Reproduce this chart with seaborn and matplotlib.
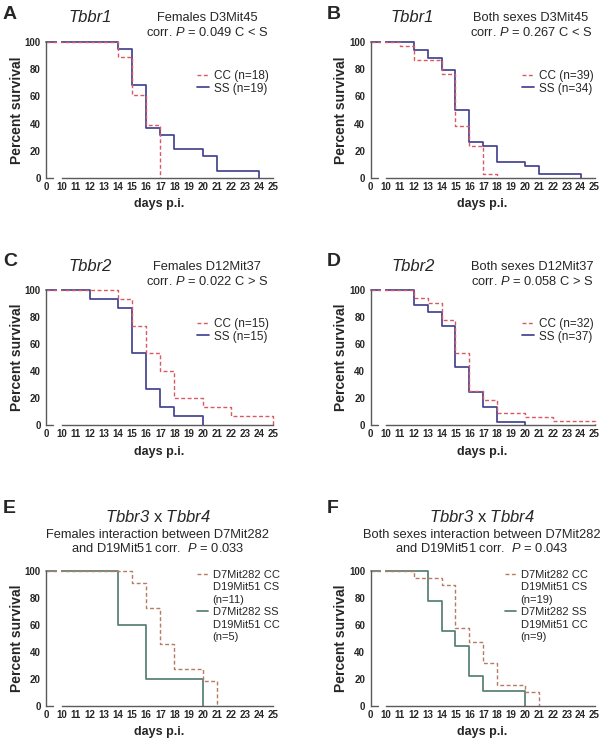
import pandas as pd
import seaborn as sns
import matplotlib.pyplot as plt
from matplotlib.lines import Line2D

sns.set_theme(style="white")
plt.rcParams['font.family'] = ['Liberation Sans', 'DejaVu Sans']
plt.rcParams['mathtext.fontset'] = 'custom'
plt.rcParams['mathtext.rm'] = 'Liberation Sans'
plt.rcParams['mathtext.it'] = 'Liberation Sans:italic'
plt.rcParams['mathtext.sf'] = 'Liberation Sans:italic'

# ---- data (days p.i. of each step, percent surviving after it) ----
a_cc_day = [0, 14, 15, 16, 17]
a_cc_surv = [100, 88.9, 61.1, 38.9, 0]
a_ss_day = [0, 14, 15, 16, 17, 18, 20, 21, 24]
a_ss_surv = [100, 94.7, 68.4, 36.8, 31.6, 21.1, 15.8, 5.3, 0]

b_cc_day = [0, 11, 12, 14, 15, 16, 17, 18]
b_cc_surv = [100, 97.4, 87.2, 76.9, 38.5, 23.1, 2.6, 0]
b_ss_day = [0, 12, 13, 14, 15, 16, 17, 18, 20, 21, 24]
b_ss_surv = [100, 94.1, 88.2, 79.4, 50.0, 26.5, 23.5, 11.8, 8.8, 2.9, 0]

c_cc_day = [0, 14, 15, 16, 17, 18, 20, 22, 25]
c_cc_surv = [100, 93.3, 73.3, 53.3, 40.0, 20.0, 13.3, 6.7, 0]
c_ss_day = [0, 12, 14, 15, 16, 17, 18, 20]
c_ss_surv = [100, 93.3, 86.7, 53.3, 26.7, 13.3, 6.7, 0]

d_cc_day = [0, 12, 13, 14, 15, 16, 17, 18, 20, 22, 25]
d_cc_surv = [100, 93.8, 90.6, 78.1, 53.1, 25.0, 18.8, 9.4, 6.3, 3.1, 0]
d_ss_day = [0, 12, 13, 14, 15, 16, 17, 18, 20]
d_ss_surv = [100, 89.2, 83.8, 73.0, 43.2, 24.3, 13.5, 2.7, 0]

e_cc_day = [0, 15, 16, 17, 18, 20, 21]
e_cc_surv = [100, 90.9, 72.7, 45.5, 27.3, 18.2, 0]
e_ss_day = [0, 14, 16, 20]
e_ss_surv = [100, 60, 20, 0]

f_cc_day = [0, 12, 14, 15, 16, 17, 18, 20, 21]
f_cc_surv = [100, 94.7, 89.5, 57.9, 47.4, 31.6, 15.8, 10.5, 0]
f_ss_day = [0, 13, 14, 15, 16, 17, 20]
f_ss_surv = [100, 77.8, 55.6, 44.4, 22.2, 11.1, 0]

x_ticks = [0] + list(range(10, 26))
y_ticks = [0, 20, 40, 60, 80, 100]

genes = ["Tbbr1", "Tbbr1", "Tbbr2", "Tbbr2",
         r"$\mathsf{Tbbr3}$ x $\mathsf{Tbbr4}$", r"$\mathsf{Tbbr3}$ x $\mathsf{Tbbr4}$"]
notes = [
    ["Females D3Mit45", r"corr. $P$ = 0.049 C < S"],
    ["Both sexes D3Mit45", r"corr. $P$ = 0.267 C < S"],
    ["Females D12Mit37", r"corr. $P$ = 0.022 C > S"],
    ["Both sexes D12Mit37", r"corr. $P$ = 0.058 C > S"],
    ["Females interaction between D7Mit282", r"and D19Mit51 corr.  $P$ = 0.033"],
    ["Both sexes interaction between D7Mit282", r"and D19Mit51 corr.  $P$ = 0.043"],
]
legend_labels = [
    ["CC (n=18)", "SS (n=19)"],
    ["CC (n=39)", "SS (n=34)"],
    ["CC (n=15)", "SS (n=15)"],
    ["CC (n=32)", "SS (n=37)"],
    ["D7Mit282 CC", "D19Mit51 CS", "(n=11)", "D7Mit282 SS", "D19Mit51 CC", "(n=5)"],
    ["D7Mit282 CC", "D19Mit51 CS", "(n=19)", "D7Mit282 SS", "D19Mit51 CC", "(n=9)"],
]
series = [
    (a_cc_day, a_cc_surv, a_ss_day, a_ss_surv),
    (b_cc_day, b_cc_surv, b_ss_day, b_ss_surv),
    (c_cc_day, c_cc_surv, c_ss_day, c_ss_surv),
    (d_cc_day, d_cc_surv, d_ss_day, d_ss_surv),
    (e_cc_day, e_cc_surv, e_ss_day, e_ss_surv),
    (f_cc_day, f_cc_surv, f_ss_day, f_ss_surv),
]
letters = ["A", "B", "C", "D", "E", "F"]

# ---- layout (pixels of a 603x743 figure) ----
W, H = 603, 743
X0 = 8.9          # where day 0 sits on the broken axis
BRK = 9.4         # end of the short first axis piece
spine_col = "#5a5a5a"
cc_colors = ["#d95863"] * 4 + ["#b77a64"] * 2
ss_colors = ["#434390"] * 4 + ["#557f73"] * 2

col_left = [46.2, 370.7]
col_width = [226.8, 223.8]
row_bottom = [177.7, 425.3, 706.0]
ax_h = 135.4

letter_pos = [(3, 6), (327, 6), (3, 253), (327, 253), (3, 500), (327, 500)]
gene_pos = [(90, 18), (412, 18), (90, 267), (413, 267), (158, 517), (482, 517)]
note_pos = [[(207, 18), (207, 33)], [(531, 18), (531, 33)],
            [(207, 267), (207, 282)], [(532, 267), (532, 282)],
            [(158, 535), (158, 548)], [(482, 535), (482, 548)]]
legend_pos = [(197, 70), (522, 70), (197, 318), (522, 318), (197, 570), (505, 570)]

fig = plt.figure(figsize=(W / 100, H / 100), dpi=100)


def px(x, y):
    return x / W, 1 - y / H


for i in range(6):
    r, c = divmod(i, 2)
    ax = fig.add_axes([col_left[c] / W, 1 - row_bottom[r] / H,
                       col_width[c] / W, ax_h / H])
    cc_day, cc_surv, ss_day, ss_surv = series[i]

    df_cc = pd.DataFrame({"pos": [X0 if d == 0 else d for d in cc_day], "surv": cc_surv})
    df_ss = pd.DataFrame({"pos": [X0 if d == 0 else d for d in ss_day], "surv": ss_surv})

    sns.lineplot(data=df_ss, x="pos", y="surv", ax=ax, color=ss_colors[i],
                 drawstyle="steps-post", estimator=None, sort=False, lw=1.25)
    ss_line = ax.lines[-1]
    sns.lineplot(data=df_cc, x="pos", y="surv", ax=ax, color=cc_colors[i],
                 drawstyle="steps-post", estimator=None, sort=False, lw=1.0,
                 linestyle="--")
    cc_line = ax.lines[-1]
    cc_line.set_dashes((2.8, 1.8))
    for ln in (ss_line, cc_line):
        ln.set_clip_on(False)
        ln.set_zorder(3)

    # axis break: gap in curves and in the x axis
    ax.axvspan(9.65, 9.93, ymin=-0.02, ymax=1.03, color="white", zorder=4,
               clip_on=False, lw=0)
    ax.axvspan(BRK + 0.02, 9.98, ymin=-0.03, ymax=0.02, color="white", zorder=6,
               clip_on=False, lw=0)
    ax.plot([X0, BRK], [0, 0], color=spine_col, lw=1, clip_on=False, zorder=7)

    ax.set_xlim(X0, 25)
    ax.set_ylim(0, 100)
    for s in ("top", "right"):
        ax.spines[s].set_visible(False)
    ax.spines["left"].set_bounds(0, 100)
    ax.spines["bottom"].set_bounds(10, 25)
    for s in ("left", "bottom"):
        ax.spines[s].set_color(spine_col)
        ax.spines[s].set_linewidth(1)
        ax.spines[s].set_zorder(7)

    ax.set_xticks([X0, BRK] + x_ticks[1:])
    ax.set_xticklabels([str(x_ticks[0]), ""] + [str(t) for t in x_ticks[1:]])
    ax.set_yticks(y_ticks)
    ax.set_yticklabels([str(t) for t in y_ticks])
    ax.tick_params(axis="x", direction="inout", length=4.5, width=1, color=spine_col,
                   pad=0.5, labelsize=7)
    ax.tick_params(axis="y", direction="out", length=3, width=1, color=spine_col,
                   pad=1, labelsize=7)
    for lab in ax.get_xticklabels() + ax.get_yticklabels():
        lab.set_fontweight("bold")

    ax.set_xlabel("days p.i.", fontsize=9, fontweight="bold")
    ax.set_ylabel("Percent survival", fontsize=10, fontweight="bold")
    ax.xaxis.set_label_coords(0.5, -0.15)
    ax.yaxis.set_label_coords(-0.1, 0.5)

    # legend
    labels = legend_labels[i]
    if len(labels) == 2:
        handles = [cc_line, ss_line]
        fs, sp = 8.5, 0.05
    else:
        blank = Line2D([], [], color="none")
        handles = [cc_line, blank, blank, ss_line, blank, blank]
        fs, sp = 8, 0.22
    lx, ly = px(*legend_pos[i])
    ax.legend(handles, labels, loc="upper left", bbox_to_anchor=(lx, ly),
              bbox_transform=fig.transFigure, frameon=False, fontsize=fs,
              borderpad=0, borderaxespad=0, handlelength=1.0, handletextpad=0.4,
              labelspacing=sp)

    # texts
    fig.text(*px(*letter_pos[i]), letters[i], fontsize=14, fontweight="bold",
             ha="left", va="top")
    gx, gy = px(*gene_pos[i])
    if i < 4:
        fig.text(gx, gy, genes[i], fontsize=12, style="italic", ha="center", va="center")
    else:
        fig.text(gx, gy, genes[i], fontsize=12, ha="center", va="center")
    for (nx, ny), line in zip(note_pos[i], notes[i]):
        fig.text(*px(nx, ny), line, fontsize=9.3, ha="center", va="center")

fig.savefig("out.png", dpi=100)
